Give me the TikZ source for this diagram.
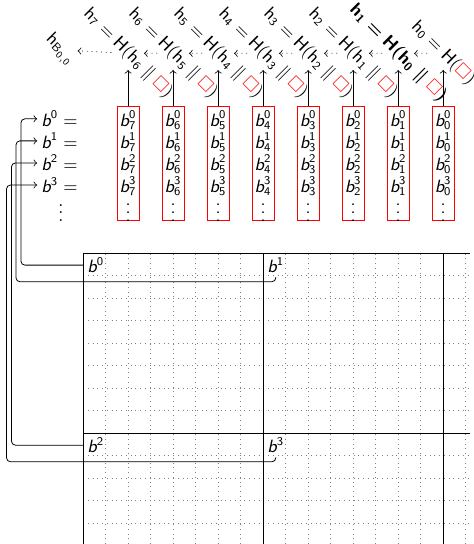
\documentclass[tikz,border=0pt]{standalone}
\usepackage{amssymb}
\usetikzlibrary{calc}
\newcommand{\bsym}{\textit{b}}
\newcommand{\bu}[1]{\bsym^{\mathsf{#1}}}
\newcommand{\bv}[2]{\bsym^{\mathsf{#1}}_{\mathsf{#2}}}
\newcommand{\hdef}[2]{$\mathsf{h}_{\mathsf{#1}}=\mathsf{H}(\mathsf{h}_{\mathsf{#2}}\parallel\textcolor{red}{\square})$}
\newcommand{\hfirst}{$\mathsf{h}_{\mathsf{0}}=\mathsf{H}(\textcolor{red}{\square})$}
\tikzset{
  blk/.style={draw=red,minimum width=0.39cm,minimum height=2.01cm,inner sep=0pt},
  entry/.style={font=\sffamily\small,inner sep=0pt},
  hlab/.style={rotate=-45,inner sep=1pt,font=\sffamily\small},
  glab/.style={anchor=north west,inner sep=2pt,font=\sffamily\small},
  link/.style={->,rounded corners=2pt},
}
\begin{document}
\begin{tikzpicture}[scale=0.4,font=\sffamily]
\useasboundingbox (-3.69,-12.93) rectangle (17.33,11.24);
% block grid
\draw[gray,dotted] (0,-12.93) grid (17.2,0);
\draw (0,0) -- (17.2,0) (0,-8) -- (17.2,-8);
\foreach \u in {0,8,16}
  \draw (\u,0) -- (\u,-12.93);
\node[glab] (g0) at (0,0) {$\bu{0}$};
\node[glab] (g1) at (8,0) {$\bu{1}$};
\node[glab] (g2) at (0,-8) {$\bu{2}$};
\node[glab] (g3) at (8,-8) {$\bu{3}$};
% rows b^i
\foreach \i in {0,...,3}
  \node[anchor=west,font=\sffamily\small,inner sep=2pt] (l\i) at (-2.04,{5.96-0.98*\i}) {$\bu{\i}=$};
\node[font=\small] (ldots) at (-0.98,2.04) {$\vdots$};
\coordinate (c0) at (-2.76,0);
\coordinate (c1) at (-2.98,0);
\coordinate (c2) at (-3.18,0);
\coordinate (c3) at (-3.40,0);
\draw[link] (g0.west) -| (c0 |- l0.west) -- (l0.west);
\draw[link] (g1.south) -- ++(0,-0.2) -| (c1 |- l1.west) -- (l1.west);
\draw[link] (g2.west) -| (c2 |- l2.west) -- (l2.west);
\draw[link] (g3.south) -- ++(0,-0.2) -| (c3 |- l3.west) -- (l3.west);
% columns
\foreach \k in {7,...,0} {
  \pgfmathsetmacro\x{16-2*\k}
  \node[blk] (B\k) at (\x,3.98) {};
  \foreach \i in {0,...,3}
    \node[entry] (e\k\i) at (\x,{5.9-0.98*\i}) {$\bv{\i}{\k}$};
  \node[entry] (e\k d) at (\x,2.04) {$\vdots$};
  \coordinate (t\k) at (\x,8.13);
  \draw[->] (B\k.north) -- (t\k);
}
% chain labels
\foreach \k in {7,...,2} {
  \pgfmathtruncatemacro\m{\k-1}
  \pgfmathsetmacro\x{16-2*\k}
  \node[hlab] (h\k) at (\x,8.87) {\hdef{\k}{\m}};
}
\node[hlab,font=\sffamily\small\boldmath] (h1) at (14,8.87) {\hdef{1}{0}};
\node[hlab] (h0) at (16,8.87) {\hfirst};
\node[hlab] (hB) at (-1.02,9.02) {$\mathsf{h}_{\mathsf{B}_{\mathsf{0,0}}}$};
\foreach \k in {0,...,6} {
  \pgfmathtruncatemacro\n{\k+1}
  \draw[->,dotted] (h\k) -- (h\n);
}
\draw[->,dotted] (h7) -- (hB);
\end{tikzpicture}
\end{document}
